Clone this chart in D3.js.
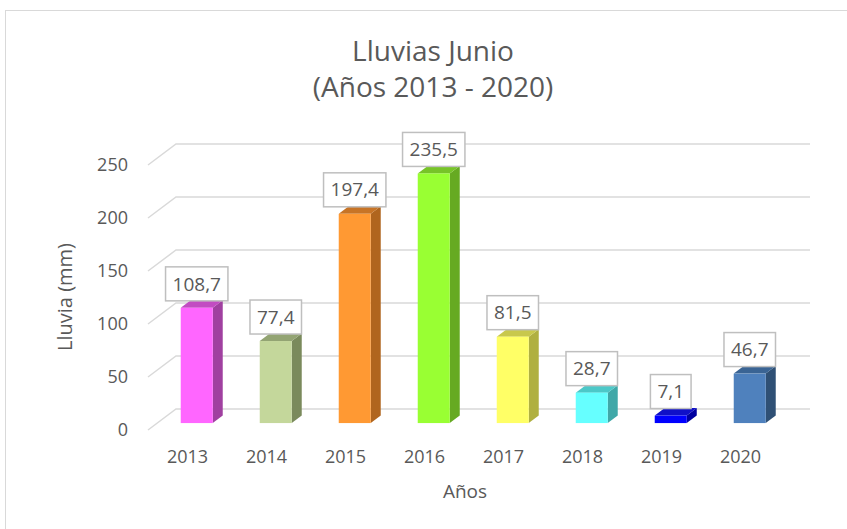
<!DOCTYPE html>
<html>
<head>
<meta charset="utf-8">
<script src="https://cdn.jsdelivr.net/npm/d3@7"></script>
<style>
  body { margin: 0; background: #fff; }
  text { font-family: "Open Sans", sans-serif; fill: #595959; }
</style>
</head>
<body>
<script>
// datos: lluvia de junio por año
const years = ["2013", "2014", "2015", "2016", "2017", "2018", "2019", "2020"];
const rain = [108.7, 77.4, 197.4, 235.5, 81.5, 28.7, 7.1, 46.7];
const yTicks = [0, 50, 100, 150, 200, 250];

// colores de cada columna: frente, lado, tapa
const frontColors = ["#ff66ff", "#c4d79b", "#ff9933", "#99ff33", "#ffff66", "#66ffff", "#0000ff", "#4f81bd"];
const sideColors = ["#a040a0", "#7a8a5c", "#b0651e", "#66aa22", "#b0b040", "#40a8a8", "#0000a0", "#2f5075"];
const topColors = ["#c24cc2", "#93a473", "#c77426", "#77c428", "#c8c84c", "#4cc8c8", "#1010c8", "#3a6494"];

const W = 847, H = 529;
const svg = d3.select("body").append("svg").attr("width", W).attr("height", H);

// borde del area del grafico
svg.append("rect").attr("x", 5.5).attr("y", 10.5).attr("width", 900).attr("height", 600)
  .attr("fill", "#fff").attr("stroke", "#d9d9d9").attr("stroke-width", 1);

// proyeccion 3D simple: el plano frontal y un desplazamiento de profundidad
const depth = { dx: 28, dy: -21 };
const x = d3.scaleBand().domain(years).range([148, 780]);
const y = d3.scaleLinear().domain([0, 250]).range([430, 165]);

// lineas de division: pared lateral + pared de fondo
const grid = svg.append("g");
yTicks.forEach(v => {
  grid.append("path")
    .attr("d", d3.line()([
      [x.range()[0], y(v)],
      [x.range()[0] + depth.dx, y(v) + depth.dy],
      [x.range()[1] + depth.dx + 2, y(v) + depth.dy]
    ]))
    .attr("fill", "none").attr("stroke", "#d9d9d9").attr("stroke-width", 1.5);
});

// eje y
svg.append("g").attr("transform", "translate(148,0)")
  .call(d3.axisLeft(y).tickValues(yTicks).tickSize(0).tickPadding(20))
  .call(g => g.select(".domain").remove())
  .selectAll("text").style("font-size", "18px").attr("fill", "#595959");

// eje x
svg.append("g").attr("transform", "translate(0,447)")
  .call(d3.axisBottom(x).tickSize(0).tickPadding(3))
  .call(g => g.select(".domain").remove())
  .selectAll("text").style("font-size", "18px").attr("fill", "#595959");

// columnas
const t0 = 0.33, bw = 32, bd = 10, bdy = 7.5;
const cols = years.map((yr, i) => {
  const cx = x(yr) + x.bandwidth() / 2 + t0 * depth.dx;
  const yTop = y(rain[i]) + t0 * depth.dy;
  const yBot = y(0) + t0 * depth.dy;
  return { yr, v: rain[i], i, cx, yTop, yBot };
});

const bars = svg.selectAll(".bar").data(cols).enter().append("g").attr("class", "bar");

bars.append("path")
  .attr("d", d => d3.line()([
    [d.cx + bw / 2, d.yTop], [d.cx + bw / 2 + bd, d.yTop - bdy],
    [d.cx + bw / 2 + bd, d.yBot - bdy], [d.cx + bw / 2, d.yBot]
  ]) + "Z")
  .attr("fill", d => sideColors[d.i]);

bars.append("path")
  .attr("d", d => d3.line()([
    [d.cx - bw / 2, d.yTop], [d.cx + bw / 2, d.yTop],
    [d.cx + bw / 2 + bd, d.yTop - bdy], [d.cx - bw / 2 + bd, d.yTop - bdy]
  ]) + "Z")
  .attr("fill", d => topColors[d.i]);

bars.append("rect")
  .attr("x", d => d.cx - bw / 2).attr("y", d => d.yTop)
  .attr("width", bw).attr("height", d => d.yBot - d.yTop)
  .attr("fill", d => frontColors[d.i]);

// etiquetas de datos
const fmt = v => d3.format(".1f")(v).replace(".", ",");
const labels = svg.selectAll(".lbl").data(cols).enter().append("g").attr("class", "lbl")
  .attr("transform", d => "translate(" + [d.cx, d.yTop - 24] + ")");
labels.append("rect").attr("fill", "#fff").attr("stroke", "#bfbfbf").attr("stroke-width", 1.5);
labels.append("text").attr("text-anchor", "middle").attr("dy", "0.35em")
  .style("font-size", "19px").text(d => fmt(d.v));
labels.each(function () {
  const g = d3.select(this);
  const w = g.select("text").node().getComputedTextLength() + 14;
  g.select("rect").attr("x", -w / 2).attr("y", -17).attr("width", w).attr("height", 34);
});

// titulo
const title = svg.append("text").attr("text-anchor", "middle").style("font-size", "28px");
title.append("tspan").attr("x", 433).attr("y", 61).text("Lluvias Junio");
title.append("tspan").attr("x", 433).attr("y", 97).text("(Años 2013 - 2020)");

// titulos de ejes
svg.append("text").attr("text-anchor", "middle").style("font-size", "19px")
  .attr("x", 465).attr("y", 498).text("Años");
svg.append("text").attr("text-anchor", "middle").style("font-size", "20px")
  .attr("transform", "translate(72,297) rotate(-90)").text("Lluvia (mm)");
</script>
</body>
</html>
